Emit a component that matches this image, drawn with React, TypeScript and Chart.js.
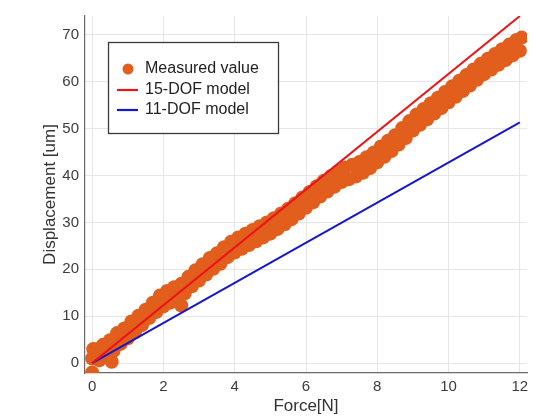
import React, { useEffect, useRef } from "react";
import { Chart, registerables } from "chart.js";

Chart.register(...registerables);

// ---- Data ----
const forceValues = [
  0, 0, 0.03, 0.1, 0.2, 0.3, 0.4, 0.5, 0.55, 0.6, 0.7, 0.8, 0.9, 1.0, 1.1, 1.2, 1.3, 1.4, 1.5, 1.6,
  1.7, 1.8, 1.9, 2.0, 2.1, 2.2, 2.3, 2.4, 2.5, 2.5, 2.6, 2.7, 2.8, 2.9, 3.0, 3.1, 3.2, 3.3, 3.4, 3.5, 3.6,
  3.7, 3.8, 3.9, 4.0, 4.1, 4.2, 4.3, 4.4, 4.5, 4.6, 4.7, 4.8, 4.9, 5.0, 5.1, 5.2, 5.3, 5.4, 5.5, 5.6,
  5.7, 5.8, 5.9, 6.0, 6.1, 6.2, 6.3, 6.4, 6.5, 6.6, 6.7, 6.8, 6.9, 7.0, 7.1, 7.2, 7.3, 7.4, 7.5, 7.6,
  7.7, 7.8, 7.9, 8.0, 8.1, 8.2, 8.3, 8.4, 8.5, 8.6, 8.7, 8.8, 8.9, 9.0, 9.1, 9.2, 9.3, 9.4, 9.5, 9.6,
  9.7, 9.8, 9.9, 10.0, 10.1, 10.2, 10.3, 10.4, 10.5, 10.6, 10.7, 10.8, 10.9, 11.0, 11.1, 11.2, 11.3,
  11.4, 11.5, 11.6, 11.7, 11.8, 11.9, 12.0, 12.05,
];
const displacementValues = [
  -2.0, 1.0, 3.0, 2.9, 0.6, 3.9, 1.6, 4.9, 0.3, 2.6, 6.4, 4.1, 7.4, 5.3, 8.9, 6.6, 10.1, 8.1, 11.4, 9.6,
  12.9, 10.9, 14.4, 12.1, 15.4, 12.9, 16.2, 13.8, 16.9, 12.3, 14.9, 18.4, 16.4, 19.8, 17.6, 21.1, 18.9, 22.4, 20.1, 23.4, 21.2,
  24.7, 22.6, 25.9, 23.6, 26.8, 24.4, 27.6, 25.2, 28.4, 26.0, 29.2, 26.8, 30.0, 27.6, 30.9, 28.6, 31.9, 29.6, 32.9, 30.7,
  34.1, 31.9, 35.3, 33.1, 36.5, 34.3, 37.7, 35.5, 38.9, 36.6, 39.9, 37.6, 40.9, 38.6, 41.7, 39.2, 42.3, 39.8, 42.9, 40.6,
  43.9, 41.6, 44.9, 42.8, 46.2, 44.0, 47.4, 45.2, 48.6, 46.6, 50.1, 48.0, 51.6, 49.6, 53.0, 50.8, 54.2, 52.0, 55.4, 53.2,
  56.6, 54.4, 57.8, 55.6, 59.0, 56.8, 60.2, 58.0, 61.4, 59.2, 62.6, 60.4, 63.8, 61.6, 64.9, 62.6, 65.9,
  63.6, 66.9, 64.6, 67.9, 65.6, 68.9, 66.6, 69.4,
];

const model15Force = [0, 12];
const model15Displacement = [0, 74];
const model11Force = [0, 12];
const model11Displacement = [0, 51.3];

const seriesLabels = ["Measured value", "15-DOF model", "11-DOF model"];
const xTickValues = [0, 2, 4, 6, 8, 10, 12];
const yTickValues = [0, 10, 20, 30, 40, 50, 60, 70];

const ORANGE = "rgb(226, 94, 28)";
const RED = "rgb(236, 20, 24)";
const BLUE = "rgb(22, 22, 205)";
const FONT = "'Liberation Sans', Arial, sans-serif";

const boxLegend = {
  id: "boxLegend",
  afterDraw(chart: any) {
    const ctx = chart.ctx;
    const x0 = 108.5;
    const y0 = 42.5;
    const w = 170;
    const h = 91;
    ctx.save();
    ctx.fillStyle = "#ffffff";
    ctx.fillRect(x0, y0, w, h);
    ctx.strokeStyle = "#3a3a3a";
    ctx.lineWidth = 1.3;
    ctx.strokeRect(x0, y0, w, h);
    const rows = [69, 90, 110];
    chart.data.datasets.forEach((ds: any, i: number) => {
      const y = rows[i];
      if (i === 0) {
        ctx.fillStyle = ds.backgroundColor;
        ctx.beginPath();
        ctx.arc(128, y, 5.5, 0, Math.PI * 2);
        ctx.fill();
      } else {
        ctx.strokeStyle = ds.borderColor;
        ctx.lineWidth = 2.2;
        ctx.beginPath();
        ctx.moveTo(117, y);
        ctx.lineTo(138, y);
        ctx.stroke();
      }
      ctx.fillStyle = "#222";
      ctx.font = `16px ${FONT}`;
      ctx.textBaseline = "middle";
      ctx.textAlign = "left";
      ctx.fillText(ds.label, 145, y);
    });
    ctx.restore();
  },
};

export default function App() {
  const canvasRef = useRef<HTMLCanvasElement | null>(null);

  useEffect(() => {
    if (!canvasRef.current) return;
    const measured = forceValues.map((f, i) => ({ x: f, y: displacementValues[i] }));
    const m15 = model15Force.map((f, i) => ({ x: f, y: model15Displacement[i] }));
    const m11 = model11Force.map((f, i) => ({ x: f, y: model11Displacement[i] }));

    const chart = new Chart(canvasRef.current, {
      type: "scatter",
      data: {
        datasets: [
          {
            type: "scatter",
            label: seriesLabels[0],
            data: measured,
            backgroundColor: ORANGE,
            borderColor: ORANGE,
            borderWidth: 0,
            pointRadius: 7,
            order: 2,
          } as any,
          {
            type: "line",
            label: seriesLabels[1],
            data: m15,
            borderColor: RED,
            backgroundColor: RED,
            borderWidth: 2,
            pointRadius: 0,
            showLine: true,
            order: 0,
          } as any,
          {
            type: "line",
            label: seriesLabels[2],
            data: m11,
            borderColor: BLUE,
            backgroundColor: BLUE,
            borderWidth: 2,
            pointRadius: 0,
            showLine: true,
            order: 1,
          } as any,
        ],
      },
      options: {
        responsive: false,
        animation: false,
        events: [],
        layout: { padding: { left: 36, top: 16, right: 1, bottom: 0 } },
        plugins: {
          legend: { display: false },
          tooltip: { enabled: false },
        },
        scales: {
          x: {
            type: "linear",
            min: -0.2,
            max: 12.2,
            afterBuildTicks: (scale: any) => {
              scale.ticks = xTickValues.map((v) => ({ value: v }));
            },
            afterFit: (scale: any) => {
              scale.height = 44;
            },
            grid: { color: "#e6e6e6", drawTicks: false },
            border: { display: true, color: "#6a6a6a", width: 1.2 },
            ticks: {
              padding: 5,
              color: "#3c3c3c",
              font: { size: 15, family: FONT },
              maxRotation: 0,
            },
            title: {
              display: true,
              text: "Force[N]",
              color: "#333",
              font: { size: 17, family: FONT },
              padding: 0,
            },
          },
          y: {
            type: "linear",
            min: -2.1,
            max: 74,
            afterBuildTicks: (scale: any) => {
              scale.ticks = yTickValues.map((v) => ({ value: v }));
            },
            afterFit: (scale: any) => {
              scale.width = 49;
            },
            grid: { color: "#e6e6e6", drawTicks: false },
            border: { display: true, color: "#6a6a6a", width: 1.2 },
            ticks: {
              padding: 6,
              color: "#3c3c3c",
              font: { size: 15, family: FONT },
            },
            title: {
              display: true,
              text: "Displacement [um]",
              color: "#333",
              font: { size: 17, family: FONT },
              padding: { top: 4, bottom: 4 },
            },
          },
        },
      },
      plugins: [boxLegend],
    } as any);

    return () => chart.destroy();
  }, []);

  return (
    <div style={{ position: "fixed", left: 0, top: 0, width: 534, height: 417, background: "#fff" }}>
      <canvas ref={canvasRef} width={534} height={417} />
    </div>
  );
}
